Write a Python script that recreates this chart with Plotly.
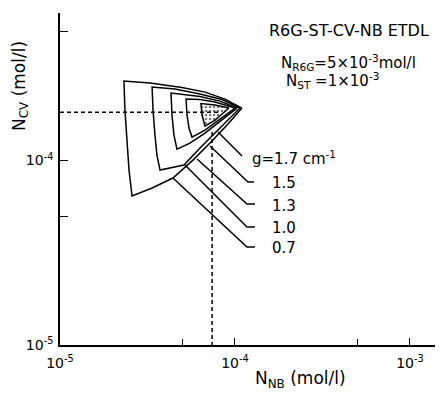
import plotly.graph_objects as go

# ---- data (log-log axes) ----
g_values = ["0.7", "1.0", "1.3", "1.5", "1.7"]

# outlines of the operating regions (N_NB, N_CV) in mol/l
nb_07 = [1.096e-4, 8.77e-5, 6.74e-5, 4.98e-5, 3.27e-5, 2.32e-5, 2.35e-5, 2.415e-5, 2.48e-5, 2.58e-5,
         3.36e-5, 4.42e-5, 5.75e-5, 7.39e-5, 9.12e-5, 1.096e-4]
cv_07 = [1.926e-4, 2.154e-4, 2.35e-4, 2.487e-4, 2.63e-4, 2.70e-4, 1.878e-4, 1.291e-4, 8.88e-5, 6.42e-5,
         7.10e-5, 8.04e-5, 1.006e-4, 1.275e-4, 1.577e-4, 1.926e-4]

nb_10 = [1.068e-4, 8.43e-5, 6.31e-5, 4.54e-5, 3.36e-5, 3.40e-5, 3.49e-5, 3.58e-5, 3.73e-5,
         5.11e-5, 6.31e-5, 8.00e-5, 1.068e-4]
cv_10 = [1.926e-4, 2.141e-4, 2.293e-4, 2.44e-4, 2.503e-4, 1.878e-4, 1.375e-4, 1.071e-4, 8.88e-5,
         9.45e-5, 1.169e-4, 1.463e-4, 1.926e-4]

nb_13 = [1.027e-4, 8.21e-5, 6.31e-5, 4.31e-5, 4.365e-5, 4.48e-5, 4.66e-5, 5.53e-5, 6.74e-5, 8.21e-5, 1.027e-4]
cv_13 = [1.926e-4, 2.10e-4, 2.223e-4, 2.322e-4, 1.765e-4, 1.375e-4, 1.154e-4, 1.244e-4, 1.41e-4, 1.637e-4, 1.926e-4]

nb_15 = [1.00e-4, 7.69e-5, 6.31e-5, 5.25e-5, 5.32e-5, 5.46e-5, 5.68e-5, 6.74e-5, 8.21e-5, 1.00e-4]
cv_15 = [1.926e-4, 2.075e-4, 2.141e-4, 2.154e-4, 1.765e-4, 1.50e-4, 1.341e-4, 1.463e-4, 1.679e-4, 1.926e-4]

nb_17 = [9.24e-5, 7.69e-5, 6.39e-5, 6.48e-5, 6.74e-5, 7.69e-5, 9.24e-5]
cv_17 = [1.926e-4, 1.999e-4, 2.037e-4, 1.765e-4, 1.538e-4, 1.658e-4, 1.926e-4]

# leader lines to the g labels
lead_nb = {"1.7": [8.00e-5, 1.096e-4],
           "1.5": [7.20e-5, 1.187e-4, 1.284e-4],
           "1.3": [6.07e-5, 1.171e-4, 1.30e-4],
           "1.0": [5.18e-5, 1.171e-4, 1.30e-4],
           "0.7": [4.42e-5, 1.171e-4, 1.30e-4]}
lead_cv = {"1.7": [1.427e-4, 1.058e-4],
           "1.5": [1.198e-4, 7.65e-5, 7.65e-5],
           "1.3": [1.019e-4, 5.81e-5, 5.81e-5],
           "1.0": [9.45e-5, 4.36e-5, 4.36e-5],
           "0.7": [8.04e-5, 3.40e-5, 3.40e-5]}

# optimum point marked by dashed lines
opt_nb = 7.4e-5
opt_cv = 1.83e-4
hline_nb = [1e-5, 8.0e-5]
vline_cv = [1.43e-4, 1e-5]

x_tickvals = [1e-5, 1e-4, 1e-3]
x_ticktext = ["10<sup>-5</sup>", "10<sup>-4</sup>", "10<sup>-3</sup>"]
x_minor = [5e-5, 5e-4]
y_tickvals = [1e-5, 1e-4]
y_ticktext = ["10<sup>-5</sup>", "10<sup>-4</sup>"]
y_minor = [5e-5, 5e-4]

FONT = "DejaVu Sans"
LW = 1.5

fig = go.Figure()

for nb, cv in [(nb_07, cv_07), (nb_10, cv_10), (nb_13, cv_13), (nb_15, cv_15)]:
    fig.add_trace(go.Scatter(x=nb, y=cv, mode="lines", line=dict(color="black", width=LW),
                             hoverinfo="skip", showlegend=False))

fig.add_trace(go.Scatter(x=nb_17, y=cv_17, mode="lines", line=dict(color="black", width=LW),
                         fill="toself", fillcolor="white",
                         fillpattern=dict(shape=".", fgcolor="black", bgcolor="white", size=4, solidity=0.35),
                         hoverinfo="skip", showlegend=False))

for g in ["1.7", "1.5", "1.3", "1.0", "0.7"]:
    fig.add_trace(go.Scatter(x=lead_nb[g], y=lead_cv[g], mode="lines",
                             line=dict(color="black", width=LW), hoverinfo="skip", showlegend=False))

fig.add_trace(go.Scatter(x=hline_nb, y=[opt_cv, opt_cv], mode="lines",
                         line=dict(color="black", width=LW, dash="4px,3px"), showlegend=False))
fig.add_trace(go.Scatter(x=[opt_nb, opt_nb], y=vline_cv, mode="lines",
                         line=dict(color="black", width=LW, dash="4px,3px"), showlegend=False))

fig.update_xaxes(type="log", range=[-5, -2.857], tickvals=x_tickvals, ticktext=x_ticktext,
                 ticks="inside", ticklen=7, tickwidth=1.3, tickcolor="black",
                 minor=dict(tickvals=x_minor, ticks="inside", ticklen=6, tickwidth=1.3, tickcolor="black"),
                 showline=True, linecolor="black", linewidth=LW, mirror=False,
                 showgrid=False, zeroline=False, ticklabelstandoff=4,
                 tickfont=dict(family=FONT, size=14, color="black"))
fig.update_yaxes(type="log", range=[-5, -3.2], tickvals=y_tickvals, ticktext=y_ticktext,
                 ticks="inside", ticklen=8, tickwidth=1.3, tickcolor="black",
                 minor=dict(tickvals=y_minor, ticks="inside", ticklen=8, tickwidth=1.3, tickcolor="black"),
                 showline=True, linecolor="black", linewidth=LW, mirror=False,
                 showgrid=False, zeroline=False, ticklabelstandoff=2,
                 tickfont=dict(family=FONT, size=14, color="black"))

ann = [
    dict(text="N<sub>CV</sub> (mol/l)", x=-0.107, y=0.78, textangle=-90, size=17),
    dict(text="N<sub>NB</sub> (mol/l)", x=0.64, y=-0.105, size=17),
]
for a in ann:
    fig.add_annotation(text=a["text"], x=a["x"], y=a["y"], xref="paper", yref="paper",
                       textangle=a.get("textangle", 0), showarrow=False,
                       xanchor="center", yanchor="middle",
                       font=dict(family=FONT, size=a["size"], color="black"))

left_texts = [
    ("R6G-ST-CV-NB ETDL", 0.553, 0.946, 16),
    ("N<sub>R6G</sub>=5×10<sup>-3</sup>mol/l", 0.584, 0.852, 15),
    ("N<sub>ST</sub> =1×10<sup>-3</sup>", 0.597, 0.798, 15),
    ("g=1.7 cm<sup>-1</sup>", 0.507, 0.563, 15),
    ("1.5", 0.56, 0.488, 15),
    ("1.3", 0.56, 0.419, 15),
    ("1.0", 0.56, 0.352, 15),
    ("0.7", 0.56, 0.292, 15),
]
for t, x, y, s in left_texts:
    fig.add_annotation(text=t, x=x, y=y, xref="paper", yref="paper", showarrow=False,
                       xanchor="left", yanchor="middle",
                       font=dict(family=FONT, size=s, color="black"))

fig.update_layout(width=442, height=393, autosize=False,
                  margin=dict(l=60, r=7, t=13, b=48),
                  paper_bgcolor="white", plot_bgcolor="white",
                  font=dict(family=FONT, color="black"), showlegend=False)

fig.write_html("out.html")
